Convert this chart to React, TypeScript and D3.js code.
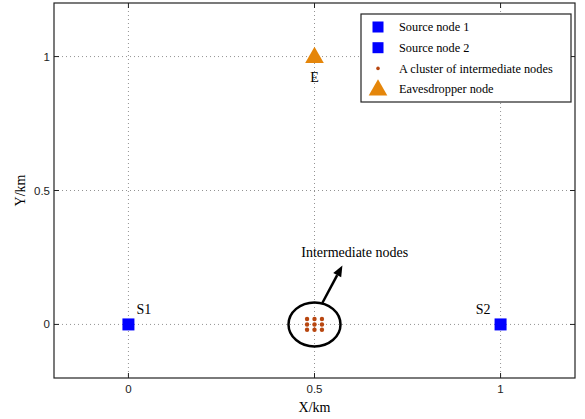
import React from 'react';
import * as d3 from 'd3';

document.body.style.margin = '0';

// chart data
const sourceX = [0, 1];
const sourceY = [0, 0];
const sourceLabels = ['S1', 'S2'];
const clusterX = [0.48, 0.5, 0.52, 0.48, 0.5, 0.52, 0.48, 0.5, 0.52];
const clusterY = [0.02, 0.02, 0.02, 0, 0, 0, -0.02, -0.02, -0.02];
const eveX = [0.5];
const eveY = [1];
const eveLabels = ['E'];
const xTicks = [0, 0.5, 1];
const yTicks = [0, 0.5, 1];
const xTickLabels = ['0', '0.5', '1'];
const yTickLabels = ['0', '0.5', '1'];
const legendLabels = ['Source node 1', 'Source node 2', 'A cluster of intermediate nodes', 'Eavesdropper node'];

const W = 585;
const H = 419;
const margin = { top: 3, right: 10, bottom: 41, left: 54 };
const SERIF = '"Liberation Serif", "Times New Roman", serif';
const SANS = '"Liberation Sans", Arial, sans-serif';
const BLUE = '#0000ff';
const DOT = '#b8460f';
const ORANGE = '#e5860a';

export default function App() {
  const w = W - margin.left - margin.right;
  const h = H - margin.top - margin.bottom;
  const x = d3.scaleLinear().domain([-0.2, 1.2]).range([0, w]);
  const y = d3.scaleLinear().domain([-0.2, 1.2]).range([h, 0]);

  const tri = d3.symbol().type(d3.symbolTriangle).size(150)();
  const tk = 5;

  // annotation: ellipse around cluster and arrow to label
  const cx = x(0.5), cy = y(0);
  const arrowFrom = [x(0.521), y(0.08)];
  const arrowTo = [x(0.575), y(0.22)];
  const ang = Math.atan2(arrowTo[1] - arrowFrom[1], arrowTo[0] - arrowFrom[0]);
  const headLen = 11, headW = 4.5;
  const bx = arrowTo[0] - headLen * Math.cos(ang), by = arrowTo[1] - headLen * Math.sin(ang);
  const head = `M${arrowTo[0]},${arrowTo[1]} L${bx + headW * Math.sin(ang)},${by - headW * Math.cos(ang)} L${bx - headW * Math.sin(ang)},${by + headW * Math.cos(ang)} Z`;

  const legX = 307, legY = 11, legW = 210, legH = 88, rowH = 20.7;

  return (
    <svg width={W} height={H} style={{ display: 'block', background: '#fff' }}>
      <g transform={`translate(${margin.left},${margin.top})`}>
        {/* grid */}
        {xTicks.map(t => (
          <line key={'gx' + t} x1={x(t)} x2={x(t)} y1={0} y2={h} stroke="#777" strokeWidth={0.8} strokeDasharray="1,3" />
        ))}
        {yTicks.map(t => (
          <line key={'gy' + t} x1={0} x2={w} y1={y(t)} y2={y(t)} stroke="#777" strokeWidth={0.8} strokeDasharray="1,3" />
        ))}
        {/* ticks on all sides */}
        {xTicks.map(t => (
          <g key={'tx' + t} stroke="#222" strokeWidth={1}>
            <line x1={x(t)} x2={x(t)} y1={h} y2={h - tk} />
            <line x1={x(t)} x2={x(t)} y1={0} y2={tk} />
          </g>
        ))}
        {yTicks.map(t => (
          <g key={'ty' + t} stroke="#222" strokeWidth={1}>
            <line x1={0} x2={tk} y1={y(t)} y2={y(t)} />
            <line x1={w} x2={w - tk} y1={y(t)} y2={y(t)} />
          </g>
        ))}
        <rect x={0} y={0} width={w} height={h} fill="none" stroke="#222" strokeWidth={1.2} />

        {/* tick labels */}
        {xTicks.map((t, i) => (
          <text key={'lx' + t} x={x(t)} y={h + 15} textAnchor="middle" fontFamily={SANS} fontSize={11.5} fill="#222">{xTickLabels[i]}</text>
        ))}
        {yTicks.map((t, i) => (
          <text key={'ly' + t} x={-4} y={y(t)} dy="0.35em" textAnchor="end" fontFamily={SANS} fontSize={11.5} fill="#222">{yTickLabels[i]}</text>
        ))}
        <text x={w / 2} y={h + 34} textAnchor="middle" fontFamily={SERIF} fontSize={14} fill="#000">X/km</text>
        <text transform={`translate(${-29},${y(0.5)}) rotate(-90)`} textAnchor="middle" fontFamily={SERIF} fontSize={14} fill="#000">Y/km</text>

        {/* source nodes */}
        {sourceX.map((sx, i) => (
          <g key={'s' + i}>
            <rect x={x(sx) - 6} y={y(sourceY[i]) - 6} width={12} height={12} fill={BLUE} />
            <text x={i === 0 ? x(sx) + 8 : x(sx) - 10} y={y(sourceY[i]) - 10} textAnchor={i === 0 ? 'start' : 'end'} fontFamily={SERIF} fontSize={14} fill="#000">{sourceLabels[i]}</text>
          </g>
        ))}

        {/* intermediate cluster */}
        {clusterX.map((px, i) => (
          <circle key={'c' + i} cx={x(px)} cy={y(clusterY[i])} r={2.2} fill={DOT} />
        ))}
        <ellipse cx={cx} cy={cy} rx={26} ry={22} fill="none" stroke="#000" strokeWidth={2.5} />
        <line x1={arrowFrom[0]} y1={arrowFrom[1]} x2={bx} y2={by} stroke="#000" strokeWidth={2.5} />
        <path d={head} fill="#000" />
        <text x={x(0.608)} y={y(0.25)} textAnchor="middle" fontFamily={SERIF} fontSize={14} fill="#000">Intermediate nodes</text>

        {/* eavesdropper */}
        {eveX.map((ex, i) => (
          <g key={'e' + i}>
            <path d={tri} transform={`translate(${x(ex)},${y(eveY[i]) + 1})`} fill={ORANGE} />
            <text x={x(ex)} y={y(eveY[i]) + 25} textAnchor="middle" fontFamily={SERIF} fontSize={14} fill="#000">{eveLabels[i]}</text>
          </g>
        ))}

        {/* legend */}
        <g transform={`translate(${legX},${legY})`}>
          <rect x={0} y={0} width={legW} height={legH} fill="#fff" stroke="#222" strokeWidth={1.2} />
          {legendLabels.map((lab, i) => {
            const ry = 13 + i * rowH;
            let marker;
            if (i < 2) marker = <rect x={17 - 5.5} y={ry - 5.5} width={11} height={11} fill={BLUE} />;
            else if (i === 2) marker = <circle cx={17} cy={ry} r={1.8} fill={DOT} />;
            else marker = <path d={tri} transform={`translate(17,${ry + 1})`} fill={ORANGE} />;
            return (
              <g key={lab}>
                {marker}
                <text x={38} y={ry} dy="0.35em" fontFamily={SERIF} fontSize={12.3} fill="#000">{lab}</text>
              </g>
            );
          })}
        </g>
      </g>
    </svg>
  );
}
